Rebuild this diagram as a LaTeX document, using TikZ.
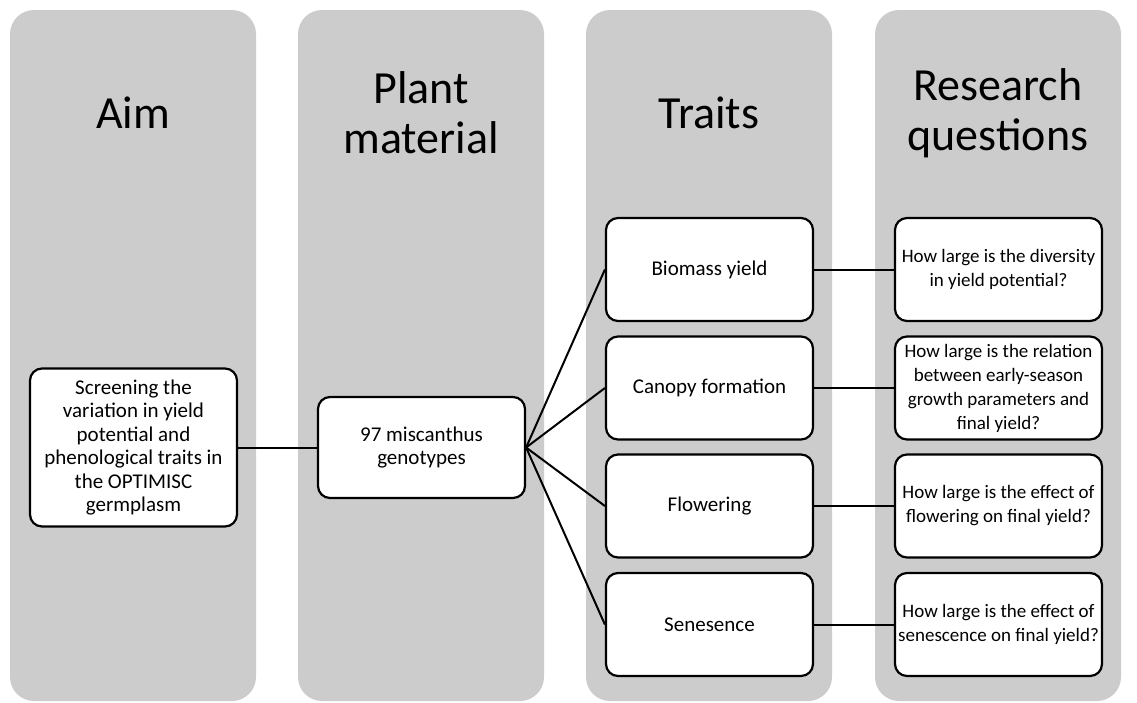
\documentclass[tikz,border=0pt]{standalone}
\usepackage{fontspec}
\setmainfont{Carlito}
\definecolor{colgray}{HTML}{CCCCCC}
\begin{document}
\begin{tikzpicture}[x=1pt,y=-1pt,
  column/.style={fill=colgray, rounded corners=24pt},
  coltitle/.style={font=\fontsize{46}{50}\selectfont, align=center},
  box/.style={draw=black, line width=2.2pt, fill=white, rounded corners=12pt,
    minimum width=207pt, minimum height=103pt, align=center,
    font=\fontsize{21}{23.5}\selectfont, inner sep=2pt},
  qbox/.style={box, font=\fontsize{19}{24}\selectfont},
  link/.style={line width=2pt}]

% canvas
\useasboundingbox (0,0) rectangle (1137,702);

% four gray columns
\fill[column] (10,10) rectangle (256,701);
\fill[column] (298,10) rectangle (544,701);
\fill[column] (586,10) rectangle (832,701);
\fill[column] (875,10) rectangle (1121,701);

% column headings
\node[coltitle] (hAim) at (133,113) {Aim};
\node[coltitle] (hPlant) at (421,113) {Plant\\material};
\node[coltitle] (hTraits) at (709,113) {Traits};
\node[coltitle] (hRQ) at (998,113) {Research\\questions};

% boxes
\node[box, minimum height=158pt] (aim) at (133.5,447.5) {Screening the\\variation in yield\\potential and\\phenological traits in\\the OPTIMISC\\germplasm};
\node[box, minimum height=101pt] (plant) at (421.5,447.5) {97 miscanthus\\genotypes};

\node[box] (t1) at (709.5,269.5) {Biomass yield};
\node[box] (t2) at (709.5,388) {Canopy formation};
\node[box] (t3) at (709.5,506) {Flowering};
\node[box] (t4) at (709.5,624.5) {Senesence};

\node[qbox] (q1) at (998.5,269.5) {How large is the diversity\\in yield potential?};
\node[qbox] (q2) at (998.5,388) {How large is the relation\\between early-season\\growth parameters and\\final yield?};
\node[qbox] (q3) at (998.5,506) {How large is the effect of\\flowering on final yield?};
\node[qbox] (q4) at (998.5,624.5) {How large is the effect of\\senescence on final yield?};

% connectors
\draw[link] (aim.east) -- (plant.west);
\foreach \t in {t1,t2,t3,t4} {
  \draw[link] (plant.east) -- (\t.west);
}
\draw[link] (t1.east) -- (q1.west);
\draw[link] (t2.east) -- (q2.west);
\draw[link] (t3.east) -- (q3.west);
\draw[link] (t4.east) -- (q4.west);
\end{tikzpicture}
\end{document}
